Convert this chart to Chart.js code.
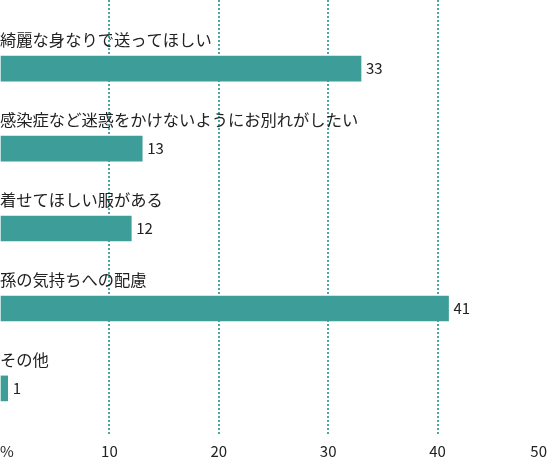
<!DOCTYPE html>
<html lang="ja">
<head>
<meta charset="utf-8">
<script src="https://cdn.jsdelivr.net/npm/chart.js@4/dist/chart.umd.min.js"></script>
<style>
  html, body { margin: 0; padding: 0; background: #fff; }
  .wrap { position: relative; width: 549px; height: 470px; }
</style>
</head>
<body>
<div class="wrap"><canvas id="chart"></canvas></div>
<script>
// ---------- data ----------
const categories = [
  "綺麗な身なりで送ってほしい",
  "感染症など迷惑をかけないようにお別れがしたい",
  "着せてほしい服がある",
  "孫の気持ちへの配慮",
  "その他",
];
const values = [33, 13, 12, 41, 0.7];
const tickLabels = ["%", "10", "20", "30", "40", "50"];

const TEAL = "#3d9e99";
const GRID = "#4aa8a3";
const INK = "#222222";
const FONT = "'Noto Sans CJK JP', 'Noto Sans', sans-serif";

// category label above each bar + value at its end
const barLabels = {
  id: "barLabels",
  afterDatasetsDraw(chart) {
    const ctx = chart.ctx;
    const meta = chart.getDatasetMeta(0);
    ctx.save();
    ctx.fillStyle = INK;
    ctx.textBaseline = "middle";
    meta.data.forEach((bar, i) => {
      ctx.font = "16.3px " + FONT;
      ctx.textAlign = "left";
      ctx.fillText(categories[i], 0, bar.y - 28.5);
      ctx.font = "15px " + FONT;
      ctx.fillText(String(Math.round(values[i])), bar.x + 5, bar.y);
    });
    ctx.restore();
  },
};

new Chart(document.getElementById("chart"), {
  type: "bar",
  data: {
    datasets: [{
      data: values.map((v, i) => ({ x: v, y: i })),
      backgroundColor: TEAL,
      barThickness: 25,
      borderWidth: 0,
    }],
  },
  options: {
    indexAxis: "y",
    responsive: true,
    maintainAspectRatio: false,
    animation: false,
    layout: { padding: { left: 0, right: 2, top: 0, bottom: 3 } },
    plugins: { legend: { display: false }, tooltip: { enabled: false } },
    scales: {
      x: {
        type: "linear",
        min: 0,
        max: 50,
        border: { display: false, dash: [2, 2] },
        grid: {
          drawTicks: false,
          lineWidth: 2,
          color: c => (c.tick && (c.tick.value === 0 || c.tick.value === 50) ? "transparent" : GRID),
        },
        ticks: {
          stepSize: 10,
          align: "inner",
          padding: 7,
          color: INK,
          font: { family: FONT, size: 15 },
          callback: (v, i) => tickLabels[i],
        },
        // labels are aligned inward, so no side padding is needed
        afterFit: s => { s.paddingLeft = 0; s.paddingRight = 0; },
      },
      y: {
        type: "linear",
        display: false,
        reverse: true,
        offset: false,
        min: -0.859,
        max: 4.583,
      },
    },
  },
  plugins: [barLabels],
});
</script>
</body>
</html>
